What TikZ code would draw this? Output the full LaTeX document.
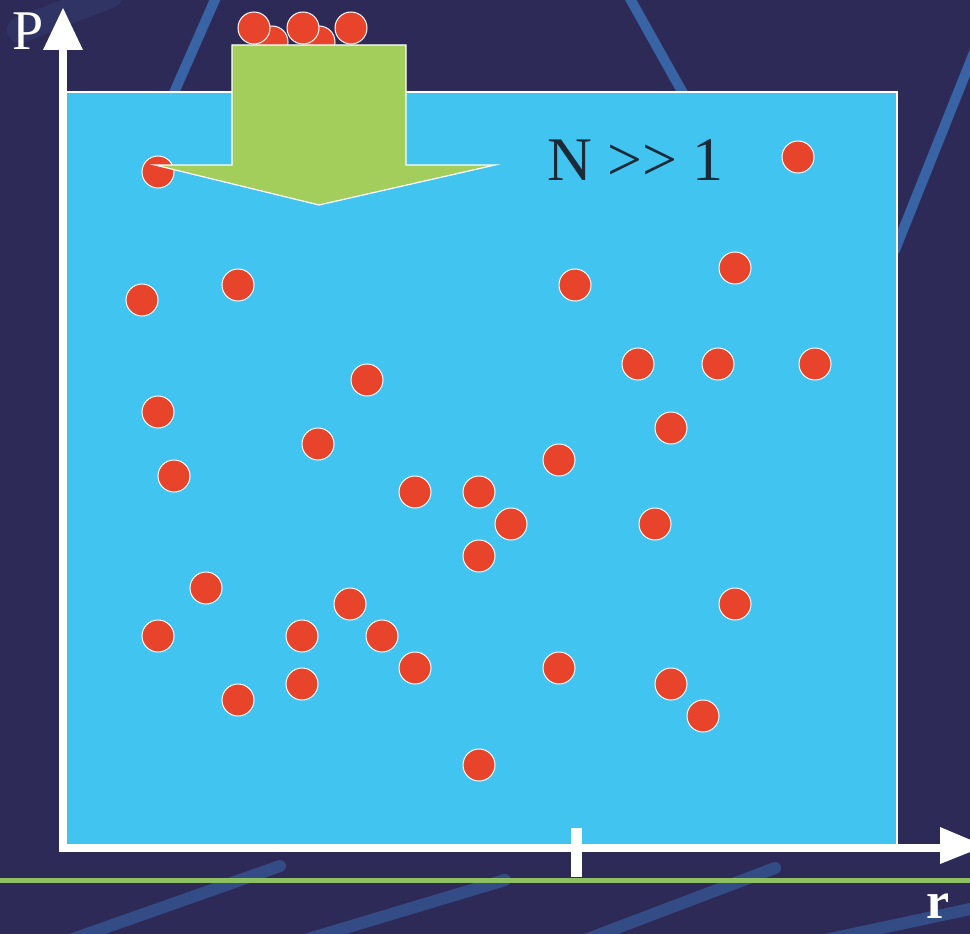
\documentclass[tikz,border=0pt]{standalone}
\usepackage{fontspec}
\setmainfont{Liberation Serif}
\definecolor{bgc}{HTML}{2E2A58}
\definecolor{streak}{HTML}{3A6FB4}
\definecolor{boxblue}{HTML}{41C4F0}
\definecolor{dotred}{HTML}{E8442C}
\definecolor{arrgreen}{HTML}{A3CE5C}
\definecolor{linegreen}{HTML}{8CC063}
\definecolor{txtdark}{HTML}{1B2A38}
\tikzset{
  streakline/.style={streak, line width=10pt, opacity=0.85, line cap=round},
  ball/.style={circle, fill=dotred, draw=white, line width=1pt, minimum size=32pt, inner sep=0pt},
  axisline/.style={white, line width=8pt},
}
\begin{document}
\begin{tikzpicture}[x=1pt,y=-1pt]
\clip (0,0) rectangle (970,934);
\fill[bgc] (0,0) rectangle (970,934);
% background streaks
\draw[streakline] (173,95) -- (217,-5);
\draw[streakline] (628,-5) -- (684,95);
\draw[streakline] (975,50) -- (895,250);
\draw[streakline, opacity=0.5, line width=12pt] (70,940) -- (280,866);
\draw[streakline, opacity=0.5, line width=12pt] (305,940) -- (505,880);
\draw[streakline, opacity=0.5, line width=12pt] (585,940) -- (775,868);
\draw[streakline, opacity=0.5, line width=12pt] (825,940) -- (975,908);
\draw[streak, opacity=0.15, line width=26pt, line cap=round] (20,30) -- (110,-5);
% green horizontal line
\draw[linegreen, line width=5pt] (0,880) -- (970,880);
% box
\fill[boxblue, draw=white, line width=1.5pt] (63,92) rectangle (897,845);
% top stacked balls
\node[ball] (t2) at (272,42) {};
\node[ball] (t4) at (319,42) {};
\node[ball] (t1) at (254,28) {};
\node[ball] (t3) at (303,28) {};
\node[ball] (t5) at (351,28) {};
% balls in box
\foreach \x/\y [count=\i] in {158/172,798/157,142/300,238/285,575/285,735/268,
  367/380,638/364,718/364,815/364,158/412,318/444,671/428,174/476,415/492,
  479/492,559/460,511/524,655/524,479/556,206/588,350/604,735/604,158/636,
  302/636,382/636,415/668,559/668,302/684,238/700,671/684,703/716,479/765}
  \node[ball] (b\i) at (\x,\y) {};
% green arrow
\fill[arrgreen, draw=white, line width=1.2pt]
  (232,45) -- (406,45) -- (406,165) -- (495,165) -- (319,205) -- (155,165) -- (232,165) -- cycle;
% axes
\coordinate (orig) at (63,848);
\coordinate (ytop) at (63,48);
\coordinate (xend) at (942,848);
\draw[axisline] (63,852) -- (ytop);
\fill[white] (43,50) -- (63,8) -- (83,50) -- cycle;
\draw[axisline] (59,848) -- (xend);
\fill[white] (940,827) -- (985,846) -- (940,864) -- cycle;
\draw[white, line width=11pt] (576,828) -- (576,877);
% labels
\node[anchor=base west, inner sep=0pt, text=white, font=\fontsize{56}{60}\selectfont] (P) at (12,50) {P};
\node[anchor=base west, inner sep=0pt, text=white, font=\fontsize{52}{56}\selectfont\bfseries] (r) at (926,918) {r};
\node[anchor=base west, inner sep=0pt, text=txtdark, font=\fontsize{62}{66}\selectfont] (N) at (547,180) {N {>}{>} 1};
\end{tikzpicture}
\end{document}
